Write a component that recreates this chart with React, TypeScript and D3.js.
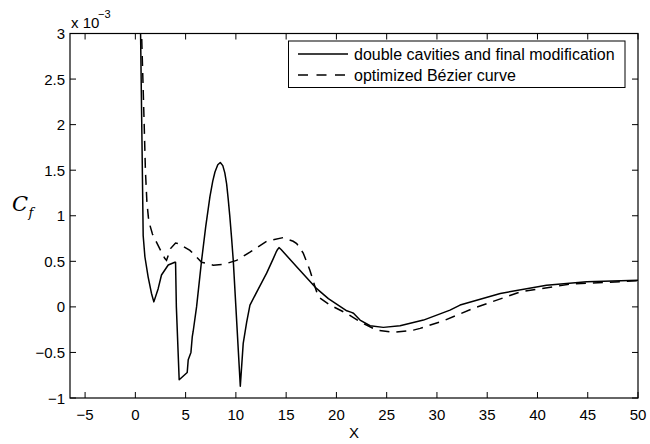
import React from "react";
import * as d3 from "d3";

// Data (Cf in units of 1e-3)
const solidX = [0.45, 0.52, 0.65, 0.78, 0.95, 1.27, 1.6, 1.84, 2.27, 2.6, 3.27, 3.93, 4.0, 4.08, 4.36, 5.16, 5.26, 5.53, 5.66, 5.75, 6.09, 6.59, 7.0, 7.42, 7.7, 7.92, 8.2, 8.45, 8.7, 8.9, 9.08, 9.24, 9.4, 9.57, 9.74, 10.0, 10.44, 10.73, 11.07, 11.4, 12.2, 13.06, 13.72, 14.0, 14.15, 14.29, 14.5, 16.0, 18.04, 19.2, 21.03, 21.5, 21.7, 22.35, 23.35, 24.67, 26.33, 28.66, 31.3, 32.3, 36.3, 40.9, 44.9, 50];
const solidY = [3.5, 3.0, 1.9, 0.78, 0.55, 0.33, 0.15, 0.055, 0.2, 0.35, 0.46, 0.49, 0.49, 0.0, -0.8, -0.72, -0.58, -0.5, -0.33, -0.27, 0.0, 0.51, 0.88, 1.21, 1.38, 1.48, 1.56, 1.585, 1.55, 1.47, 1.35, 1.18, 0.99, 0.76, 0.51, 0.0, -0.87, -0.4, -0.17, 0.02, 0.19, 0.37, 0.53, 0.6, 0.63, 0.65, 0.63, 0.445, 0.2, 0.09, -0.043, -0.06, -0.07, -0.145, -0.207, -0.225, -0.207, -0.145, -0.036, 0.02, 0.147, 0.238, 0.275, 0.293];

const dashX = [0.55, 0.62, 0.75, 0.88, 1.0, 1.15, 1.3, 1.44, 1.7, 2.1, 2.6, 2.94, 3.1, 3.5, 4.0, 4.26, 5.43, 6.59, 7.75, 8.74, 10.07, 11.4, 13.06, 14.7, 15.7, 16.05, 16.7, 17.37, 17.87, 18.2, 19.36, 21.03, 22.35, 24.0, 25.67, 27.66, 28.33, 30.65, 33.6, 38.3, 43.3, 50];
const dashY = [3.5, 3.0, 2.5, 2.0, 1.5, 1.15, 0.98, 0.9, 0.8, 0.71, 0.6, 0.53, 0.51, 0.64, 0.7, 0.695, 0.62, 0.49, 0.457, 0.465, 0.51, 0.6, 0.72, 0.76, 0.72, 0.695, 0.59, 0.4, 0.22, 0.11, 0.02, -0.072, -0.164, -0.255, -0.28, -0.255, -0.236, -0.153, -0.017, 0.165, 0.25, 0.286];

const xTicks = [-5, 0, 5, 10, 15, 20, 25, 30, 35, 40, 45, 50];
const yTicks = [-1, -0.5, 0, 0.5, 1, 1.5, 2, 2.5, 3];
const seriesNames = ["double cavities and final modification", "optimized Bézier curve"];

const W = 650, H = 444;
const L = 70, R = 638, T = 33.5, B = 398;
const FONT = "Liberation Sans, Arial, Helvetica, sans-serif";

function fmt(v: number) {
  const s = String(v);
  return s.startsWith("-") ? "\u2212" + s.slice(1) : s;
}

export default function App() {
  const x = d3.scaleLinear().domain([-6.5, 50]).range([L, R]);
  const y = d3.scaleLinear().domain([-1, 3]).range([B, T]);
  const line = d3
    .line<[number, number]>()
    .x((d) => x(d[0]))
    .y((d) => y(d[1]))
    .curve(d3.curveLinear);
  const solid = line(solidX.map((v, i) => [v, solidY[i]] as [number, number])) || "";
  const dashed = line(dashX.map((v, i) => [v, dashY[i]] as [number, number])) || "";
  const tl = 6;
  return (
    <svg width={W} height={H} style={{ position: "absolute", left: 0, top: 0, background: "#fff" }} fontFamily={FONT}>
      <defs>
        <clipPath id="plot">
          <rect x={L} y={T} width={R - L} height={B - T} />
        </clipPath>
      </defs>
      <rect x={0} y={0} width={W} height={H} fill="#fff" />
      {xTicks.map((t) => (
        <g key={"x" + t}>
          <line x1={x(t)} x2={x(t)} y1={B} y2={B - tl} stroke="#000" strokeWidth={1} />
          <line x1={x(t)} x2={x(t)} y1={T} y2={T + tl} stroke="#000" strokeWidth={1} />
          <text x={x(t)} y={420} fontSize={15} textAnchor="middle" fill="#000">{fmt(t)}</text>
        </g>
      ))}
      {yTicks.map((t) => (
        <g key={"y" + t}>
          <line x1={L} x2={L + tl} y1={y(t)} y2={y(t)} stroke="#000" strokeWidth={1} />
          <line x1={R} x2={R - tl} y1={y(t)} y2={y(t)} stroke="#000" strokeWidth={1} />
          <text x={65} y={y(t) + 5.5} fontSize={15} textAnchor="end" fill="#000">{fmt(t)}</text>
        </g>
      ))}
      <g clipPath="url(#plot)">
        <path d={solid} fill="none" stroke="#000" strokeWidth={1.5} strokeLinejoin="round" />
        <path d={dashed} fill="none" stroke="#000" strokeWidth={1.5} strokeDasharray="10,7" />
      </g>
      <rect x={L} y={T} width={R - L} height={B - T} fill="none" stroke="#000" strokeWidth={1.2} />
      <text x={71} y={28} fontSize={15} fill="#000">x 10</text>
      <text x={98} y={18} fontSize={11} fill="#000">{"\u22123"}</text>
      <text x={(L + R) / 2} y={438} fontSize={15} textAnchor="middle" fill="#000">X</text>
      <text x={12} y={211} fontSize={21} fontStyle="italic" fontFamily="DejaVu Serif, Liberation Serif, serif" fill="#000">C</text>
      <text x={28.5} y={217} fontSize={13} fontStyle="italic" fontFamily="DejaVu Serif, Liberation Serif, serif" fill="#000">f</text>
      <rect x={288.5} y={41} width={336.5} height={46.5} fill="#fff" stroke="#000" strokeWidth={1} />
      <line x1={298} x2={348} y1={54} y2={54} stroke="#000" strokeWidth={1.5} />
      <line x1={298} x2={348} y1={75} y2={75} stroke="#000" strokeWidth={1.5} strokeDasharray="10,8.5" />
      <text x={354} y={59.5} fontSize={16} fill="#000">{seriesNames[0]}</text>
      <text x={354} y={80.5} fontSize={16} fill="#000">{seriesNames[1]}</text>
    </svg>
  );
}
